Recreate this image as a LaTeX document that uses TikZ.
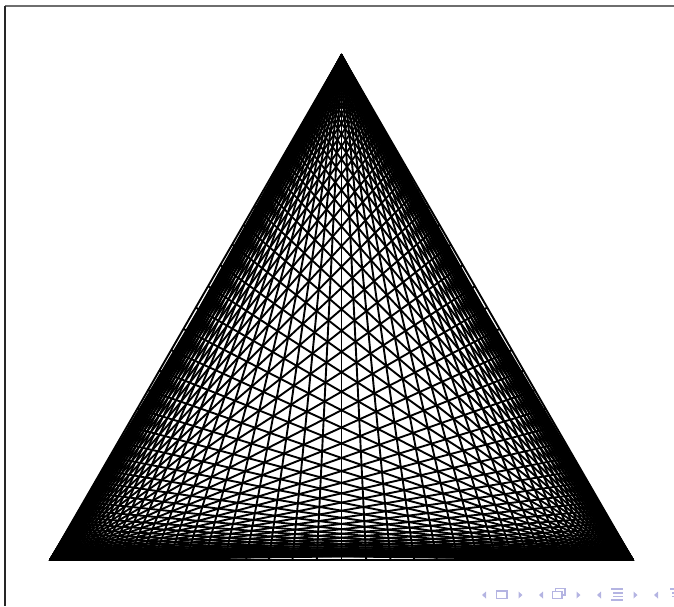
\documentclass[tikz,border=0pt]{standalone}
\usetikzlibrary{calc}
\definecolor{navc}{RGB}{180,180,226}
\definecolor{framegray}{RGB}{110,110,110}
\tikzset{
  mesh/.style={line width=1.02pt, black},
  navtri/.style={fill=navc, draw=none},
  navline/.style={draw=navc, line width=0.7pt},
}
\begin{document}
\begin{tikzpicture}[x=0.538pt,y=-0.538pt]
\useasboundingbox (0,0) rectangle (674,606);
% frame edges of the screenshot
\coordinate (TL) at (5.3,5.6);
\coordinate (TR) at (674,5.6);
\coordinate (BL) at (5.3,606);
\draw[framegray, line width=1.1pt] (TL) -- (TR);
\draw[black!85, line width=0.9pt] (TL) -- (BL);
% triangle
\coordinate (A) at (50,560);
\coordinate (B) at (633,560);
\coordinate (C) at (341.5,55.1);
\foreach \k in {-25,...,25}{
  \pgfmathsetmacro\t{1/(1+exp(\k*0.17))}
  \draw[mesh] (A) -- ($(B)!\t!(C)$);
  \draw[mesh] (B) -- ($(C)!\t!(A)$);
  \draw[mesh] (C) -- ($(A)!\t!(B)$);
}
\draw[mesh] (A) -- (B) -- (C) -- cycle;
% navigation symbols
\begin{scope}[navtri]
  \fill (486,591.5) -- (486,598.5) -- (482,595) -- cycle;
  \fill (518.5,591.5) -- (518.5,598.5) -- (522.5,595) -- cycle;
  \fill (543,591.5) -- (543,598.5) -- (539,595) -- cycle;
  \fill (576.5,591.5) -- (576.5,598.5) -- (580.5,595) -- cycle;
  \fill (601,591.5) -- (601,598.5) -- (597,595) -- cycle;
  \fill (633.5,591.5) -- (633.5,598.5) -- (637.5,595) -- cycle;
  \fill (658,591.5) -- (658,598.5) -- (654,595) -- cycle;
\end{scope}
\draw[navline] (496.5,591) rectangle (507,598.5);
\draw[navline] (555.5,588.5) rectangle (565,595);
\draw[navline, fill=white] (552.5,591.5) rectangle (562,598.5);
\draw[navline] (611,589) -- (623,589);
\draw[navline] (613,593) -- (623,593);
\draw[navline] (613,596.5) -- (623,596.5);
\draw[navline] (611,600) -- (623,600);
\draw[navline] (670,589) -- (674,589);
\draw[navline] (672,593) -- (674,593);
\draw[navline] (672,596.5) -- (674,596.5);
\end{tikzpicture}
\end{document}
